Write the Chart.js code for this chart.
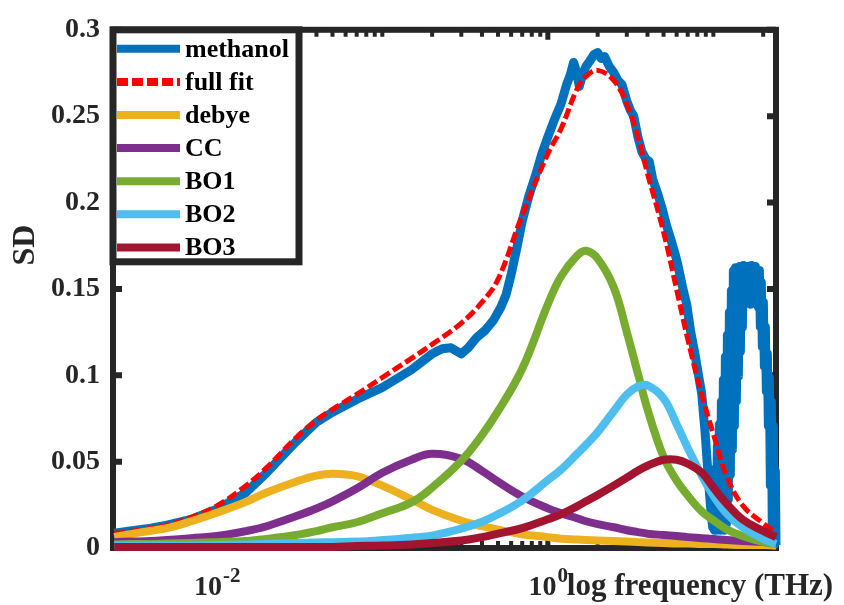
<!DOCTYPE html>
<html>
<head>
<meta charset="utf-8">
<script src="https://cdn.jsdelivr.net/npm/chart.js@4.4.1/dist/chart.umd.min.js"></script>
<style>
  html, body { margin: 0; padding: 0; background: #fff; }
</style>
</head>
<body>
<canvas id="sdChart" width="844" height="605"></canvas>
<script>
// ---- data (frequency in THz, SD) ----
const freqFit = [0.0024, 0.003, 0.004, 0.005, 0.007, 0.01, 0.015, 0.02, 0.03, 0.04,
  0.05, 0.07, 0.1, 0.15, 0.2, 0.3, 0.4, 0.5, 0.7, 1,
  1.2, 1.5, 1.7, 2, 2.5, 3, 3.5, 4, 5, 6,
  7, 8.5, 10, 12, 15, 20, 23.9];

const fullFit = [0.0086, 0.0095, 0.0115, 0.0132, 0.0178, 0.0244, 0.0361, 0.0465, 0.0637, 0.0740,
  0.0803, 0.0889, 0.0987, 0.1098, 0.1179, 0.1302, 0.1423, 0.1555, 0.1927, 0.2283,
  0.2426, 0.2656, 0.2730, 0.2765, 0.2707, 0.2570, 0.2380, 0.2168, 0.1830, 0.1497,
  0.1210, 0.0889, 0.0660, 0.0419, 0.0247, 0.0143, 0.0086];

const debye = [0.0063, 0.0080, 0.0100, 0.0115, 0.0155, 0.0204, 0.0267, 0.0321, 0.0384, 0.0419,
  0.0430, 0.0416, 0.0361, 0.0281, 0.0221, 0.0158, 0.0126, 0.0106, 0.0080, 0.0063,
  0.0054, 0.0049, 0.0046, 0.0043, 0.0040, 0.0037, 0.0034, 0.0032, 0.0029, 0.0026,
  0.0026, 0.0023, 0.0023, 0.0020, 0.0017, 0.0017, 0.0014];

const cc = [0.0034, 0.0037, 0.0040, 0.0046, 0.0057, 0.0069, 0.0098, 0.0126, 0.0184, 0.0229,
  0.0270, 0.0344, 0.0436, 0.0511, 0.0545, 0.0516, 0.0447, 0.0384, 0.0298, 0.0229,
  0.0201, 0.0172, 0.0155, 0.0138, 0.0120, 0.0103, 0.0092, 0.0083, 0.0075, 0.0069,
  0.0063, 0.0057, 0.0052, 0.0046, 0.0040, 0.0034, 0.0029];

const bo1 = [0.0020, 0.0023, 0.0023, 0.0026, 0.0029, 0.0034, 0.0040, 0.0052, 0.0075, 0.0098,
  0.0120, 0.0149, 0.0201, 0.0264, 0.0350, 0.0505, 0.0654, 0.0792, 0.1038, 0.1411,
  0.1572, 0.1692, 0.1721, 0.1675, 0.1509, 0.1250, 0.1010, 0.0803, 0.0528, 0.0390,
  0.0304, 0.0212, 0.0161, 0.0109, 0.0069, 0.0034, 0.0023];

const bo2 = [0.0014, 0.0014, 0.0014, 0.0014, 0.0014, 0.0017, 0.0020, 0.0023, 0.0029, 0.0032,
  0.0034, 0.0037, 0.0046, 0.0060, 0.0072, 0.0112, 0.0152, 0.0195, 0.0275, 0.0393,
  0.0453, 0.0545, 0.0597, 0.0671, 0.0792, 0.0889, 0.0935, 0.0941, 0.0866, 0.0717,
  0.0579, 0.0419, 0.0304, 0.0201, 0.0120, 0.0052, 0.0023];

const bo3 = [0.0006, 0.0006, 0.0006, 0.0006, 0.0006, 0.0006, 0.0006, 0.0006, 0.0006, 0.0006,
  0.0006, 0.0011, 0.0014, 0.0020, 0.0029, 0.0043, 0.0063, 0.0083, 0.0115, 0.0166,
  0.0195, 0.0241, 0.0270, 0.0307, 0.0361, 0.0407, 0.0447, 0.0476, 0.0511, 0.0511,
  0.0488, 0.0436, 0.0350, 0.0258, 0.0166, 0.0098, 0.0063];

// measured methanol spectrum (very noisy above ~10 THz)
const freqMeas = [0.0024, 0.003, 0.004, 0.005, 0.007, 0.01, 0.015, 0.02, 0.03, 0.04,
  0.05, 0.07, 0.1, 0.15, 0.2, 0.23, 0.26, 0.3, 0.33, 0.37,
  0.42, 0.47, 0.52, 0.56, 0.6, 0.65, 0.7, 0.77, 0.85, 0.92,
  1, 1.1, 1.2, 1.3, 1.37, 1.43, 1.48, 1.55, 1.62, 1.7,
  1.8, 1.9, 2.0, 2.1, 2.2, 2.35, 2.5, 2.65, 2.8, 3.0,
  3.15, 3.3, 3.5, 3.7, 3.9, 4.1, 4.3, 4.6, 4.9, 5.2,
  5.5, 5.8, 6.1, 6.5, 6.9, 7.3, 7.7, 8.1, 8.5, 8.9,
  9.3, 9.6, 9.9,
  10.000, 10.140, 10.282, 10.426, 10.572, 10.720, 10.870, 11.023, 11.177, 11.334,
  11.493, 11.654, 11.817, 11.983, 12.150, 12.321, 12.493, 12.668, 12.846, 13.026,
  13.208, 13.393, 13.581, 13.771, 13.964, 14.159, 14.358, 14.559, 14.763, 14.969,
  15.179, 15.392, 15.607, 15.826, 16.048, 16.272, 16.500, 16.731, 16.966, 17.203,
  17.444, 17.689, 17.936, 18.187, 18.442, 18.700, 18.962, 19.228, 19.497, 19.770,
  20.047, 20.328, 20.612, 20.901, 21.194, 21.491, 21.792, 22.097, 22.406, 22.720,
  23.038, 23.361, 23.688, 23.9];

const methanol = [0.0086, 0.0098, 0.0115, 0.0132, 0.0166, 0.0224, 0.0321, 0.0436, 0.0614, 0.0728,
  0.0786, 0.0860, 0.0929, 0.1032, 0.1124, 0.1153, 0.1159, 0.1124, 0.1159, 0.1216,
  0.1262, 0.1319, 0.1394, 0.1468, 0.1583, 0.1738, 0.1893, 0.2042, 0.2168, 0.2283,
  0.2380, 0.2484, 0.2570, 0.2684, 0.2742, 0.2811, 0.2765, 0.2673, 0.2742, 0.2788,
  0.2822, 0.2857, 0.2868, 0.2834, 0.2845, 0.2788, 0.2753, 0.2707, 0.2684, 0.2587,
  0.2535, 0.2501, 0.2380, 0.2294, 0.2254, 0.2237, 0.2134, 0.2054, 0.1967, 0.1870,
  0.1795, 0.1721, 0.1640, 0.1514, 0.1411, 0.1250, 0.1136, 0.1010, 0.0895, 0.0677,
  0.0419, 0.0247, 0.0120,
  0.0333, 0.0103, 0.0459, 0.0103, 0.0591, 0.0115, 0.0717, 0.0103, 0.0849, 0.0115,
  0.0975, 0.0103, 0.1107, 0.0138, 0.1233, 0.0281, 0.1365, 0.0424, 0.1491, 0.0568,
  0.1606, 0.0706, 0.1623, 0.0849, 0.1606, 0.0992, 0.1629, 0.1136, 0.1618, 0.1279,
  0.1635, 0.1423, 0.1618, 0.1509, 0.1629, 0.1434, 0.1612, 0.1411, 0.1635, 0.1445,
  0.1618, 0.1423, 0.1629, 0.1451, 0.1606, 0.1394, 0.1606, 0.1279, 0.1537, 0.1164,
  0.1423, 0.1050, 0.1279, 0.0906, 0.1124, 0.0706, 0.0987, 0.0361, 0.0849, 0.0046,
  0.0706, 0.0017, 0.0447, 0.0017];

const seriesNames = ["methanol", "full fit", "debye", "CC", "BO1", "BO2", "BO3"];
const xTickValues = [0.01, 1];
const xTickBase = ["10", "10"];
const xTickExp = ["-2", "0"];
const yTickLabels = ["0", "0.05", "0.1", "0.15", "0.2", "0.25", "0.3"];
const xTitle = "log frequency (THz)";
const yTitle = "SD";

// ---- styles ----
const FONT = "'Liberation Serif', 'Times New Roman', serif";
const INK = "#262626";
const colors = ["#0072BD", "#FF0000", "#EDB120", "#7E2F8E", "#77AC30", "#4DBEEE", "#A2142F"];
const widths = [9, 5, 8, 8, 8, 8, 8];
const fitDash = [11, 4];

function toPoints(xs, ys) {
    return xs.map((f, i) => ({ x: f, y: ys[i] }));
}

// box, inward ticks, labels and legend (matlab look)
const framePlugin = {
    id: "frame",
    beforeDatasetsDraw(chart) {
        const { ctx, chartArea: a, scales } = chart;
        const x = scales.x, y = scales.y;
        ctx.save();
        ctx.strokeStyle = INK;
        ctx.lineCap = "butt";
        ctx.lineWidth = 6;
        ctx.strokeRect(a.left, a.top, a.right - a.left, a.bottom - a.top);

        // y ticks on both sides
        y.ticks.forEach(t => {
            const py = y.getPixelForValue(t.value);
            ctx.beginPath();
            ctx.moveTo(a.left, py); ctx.lineTo(a.left + 9, py);
            ctx.moveTo(a.right, py); ctx.lineTo(a.right - 9, py);
            ctx.stroke();
        });

        // log ticks top and bottom
        for (let e = -3; e <= 1; e++) {
            for (let m = 1; m <= 9; m++) {
                const v = m * Math.pow(10, e);
                if (v < x.min || v > x.max) continue;
                const px = x.getPixelForValue(v);
                const major = xTickValues.some(t => Math.abs(t - v) < 1e-9);
                const len = major ? 10 : 7;
                ctx.lineWidth = major ? 5 : 4;
                ctx.beginPath();
                ctx.moveTo(px, a.bottom); ctx.lineTo(px, a.bottom - len);
                ctx.moveTo(px, a.top); ctx.lineTo(px, a.top + len);
                ctx.stroke();
            }
        }
        ctx.restore();
    },
    afterDraw(chart) {
        const { ctx, chartArea: a, scales } = chart;
        const x = scales.x;
        ctx.save();
        ctx.fillStyle = INK;

        // x tick labels with superscripts
        ctx.textBaseline = "alphabetic";
        ctx.textAlign = "left";
        const baseY = a.bottom + 47;
        xTickValues.forEach((v, i) => {
            const px = x.getPixelForValue(v);
            ctx.font = "bold 28px " + FONT;
            const wb = ctx.measureText(xTickBase[i]).width;
            ctx.font = "bold 21px " + FONT;
            const we = ctx.measureText(xTickExp[i]).width;
            const start = px - (wb + we) / 2;
            ctx.font = "bold 28px " + FONT;
            ctx.fillText(xTickBase[i], start, baseY);
            ctx.font = "bold 21px " + FONT;
            ctx.fillText(xTickExp[i], start + wb + 1, baseY - 13);
        });

        // x title sits right after the 10^0 label
        ctx.font = "bold 31px " + FONT;
        ctx.fillText(xTitle, x.getPixelForValue(1) + 19, baseY);

        // y title
        ctx.save();
        ctx.translate(26, 245);
        ctx.rotate(-Math.PI / 2);
        ctx.textAlign = "center";
        ctx.textBaseline = "middle";
        ctx.font = "bold 32px " + FONT;
        ctx.fillText(yTitle, 0, 0);
        ctx.restore();

        // legend box in the upper left corner
        const lx = a.left, ly = a.top, lw = 186, lh = 232;
        ctx.fillStyle = "#fff";
        ctx.fillRect(lx, ly, lw, lh);
        ctx.strokeStyle = INK;
        ctx.lineWidth = 7;
        ctx.strokeRect(lx, ly, lw, lh);

        ctx.font = "bold 26px " + FONT;
        ctx.textBaseline = "middle";
        chart.data.datasets.forEach((ds, i) => {
            const ry = ly + 19 + i * 33.1;
            ctx.strokeStyle = ds.borderColor;
            ctx.lineWidth = 8;
            ctx.setLineDash(ds.borderDash || []);
            ctx.beginPath();
            ctx.moveTo(lx + 4, ry);
            ctx.lineTo(lx + 67, ry);
            ctx.stroke();
            ctx.setLineDash([]);
            ctx.fillStyle = "#000";
            ctx.fillText(ds.label, lx + 72, ry + 1);
        });
        ctx.restore();
    }
};

const fitSets = [fullFit, debye, cc, bo1, bo2, bo3];
const datasets = [{
    label: seriesNames[0],
    data: toPoints(freqMeas, methanol),
    borderColor: colors[0],
    borderWidth: widths[0],
    tension: 0,
    order: 7
}];
fitSets.forEach((vals, k) => {
    const i = k + 1;
    datasets.push({
        label: seriesNames[i],
        data: toPoints(freqFit, vals),
        borderColor: colors[i],
        borderWidth: widths[i],
        borderDash: i === 1 ? fitDash : undefined,
        tension: 0.4,
        order: 7 - i
    });
});

const ctx = document.getElementById("sdChart").getContext("2d");
new Chart(ctx, {
    type: "line",
    data: { datasets: datasets },
    options: {
        responsive: false,
        animation: false,
        devicePixelRatio: 1,
        layout: { padding: { top: 22, right: 68, left: 0, bottom: 0 } },
        datasets: { line: { clip: false } },
        elements: {
            point: { radius: 0 },
            line: { borderJoinStyle: "round", borderCapStyle: "butt", fill: false }
        },
        plugins: {
            legend: { display: false },
            tooltip: { enabled: false }
        },
        scales: {
            x: {
                type: "logarithmic",
                min: 0.00236,
                max: 23.9,
                grid: { display: false, drawTicks: false },
                border: { display: false },
                ticks: { display: false },
                afterFit: s => { s.height = 57; }
            },
            y: {
                min: 0,
                max: 0.3,
                grid: { display: false, drawTicks: false },
                border: { display: false },
                ticks: {
                    stepSize: 0.05,
                    padding: 13,
                    color: INK,
                    font: { family: FONT, size: 28, weight: "bold" },
                    callback: (v, i) => yTickLabels[i]
                },
                afterFit: s => { s.height; s.width = 113; }
            }
        }
    },
    plugins: [framePlugin]
});
</script>
</body>
</html>
